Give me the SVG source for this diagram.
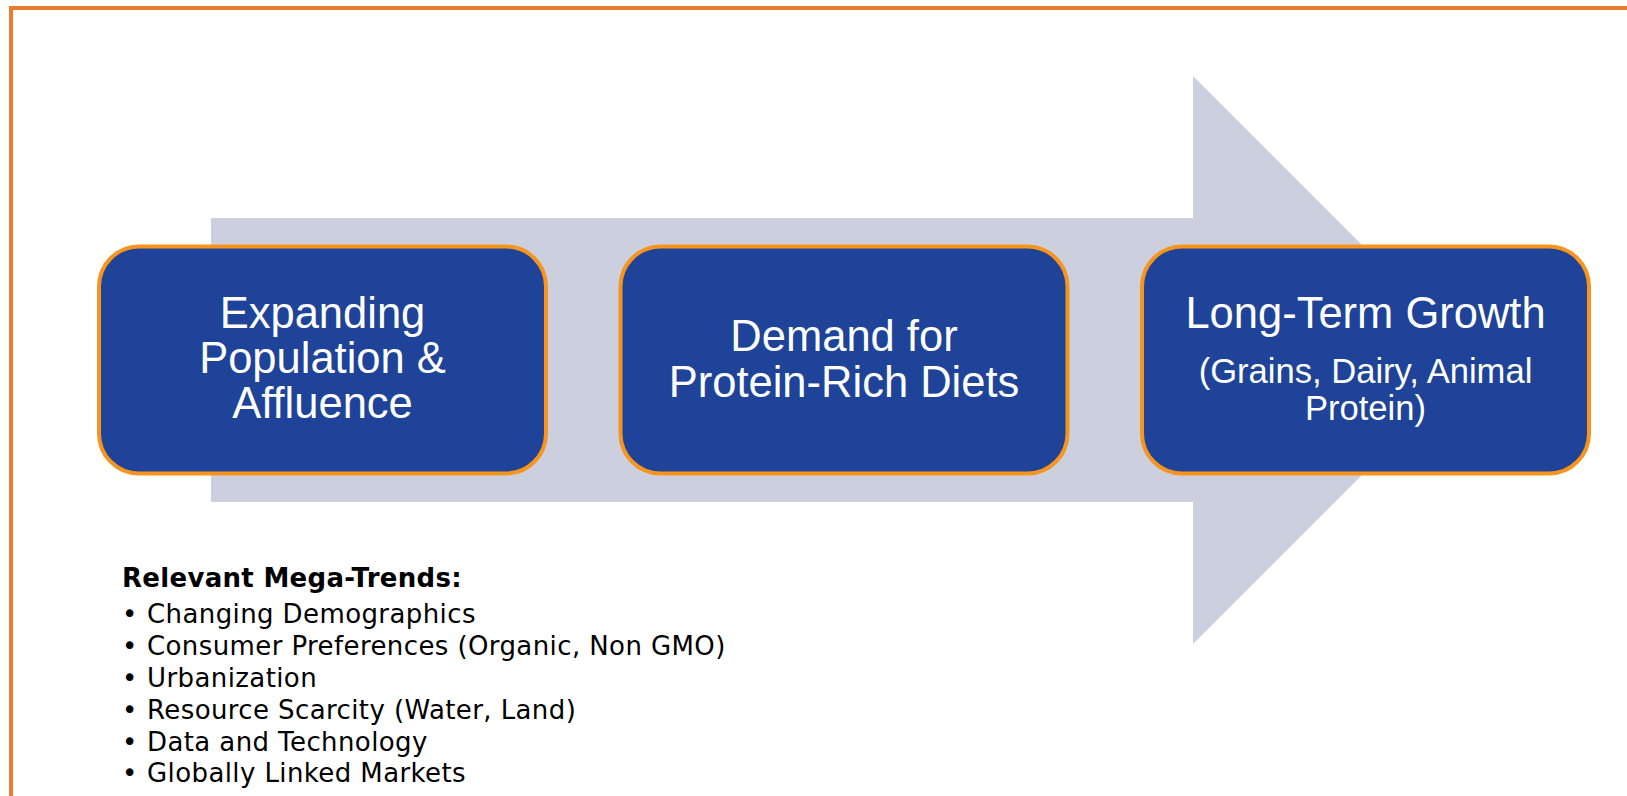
<svg xmlns="http://www.w3.org/2000/svg" width="1627" height="796" viewBox="0 0 1627 796">
  <style>
    .frame { fill: none; stroke: #EE7B2A; stroke-width: 4; }
    .band { fill: #CCD0DE; }
    .box { fill: #1E4398; stroke: #F7941D; stroke-width: 4; }
    .lbl { font-family: "Liberation Sans", Arial, sans-serif; fill: #FFFFFF; text-anchor: middle; }
    .big { font-size: 43.5px; }
    .small { font-size: 34.6px; }
    .list { font-family: "DejaVu Sans", Verdana, sans-serif; font-size: 26px; fill: #000000; letter-spacing: 0.4px; }
    .head { font-weight: bold; letter-spacing: 0.3px; }
  </style>

  <rect id="page" x="0" y="0" width="1627" height="796" fill="#FFFFFF"/>
  <!-- outer frame, continues past the right and bottom edges -->
  <rect class="frame" x="11" y="8" width="1640" height="820"/>

  <!-- background flow arrow -->
  <g id="connectors">
    <polygon class="band" points="211,218 1193,218 1193,76 1477,360 1193,644 1193,502 211,502"/>
  </g>

  <g id="node-population">
    <rect class="box" x="99" y="246.5" width="447" height="227" rx="40" ry="40"/>
    <text class="lbl big" x="322.5" y="328">Expanding</text>
    <text class="lbl big" x="322.5" y="373">Population &amp;</text>
    <text class="lbl big" x="322.5" y="418">Affluence</text>
  </g>

  <g id="node-demand">
    <rect class="box" x="620.5" y="246.5" width="447" height="227" rx="40" ry="40"/>
    <text class="lbl big" x="844" y="351">Demand for</text>
    <text class="lbl big" x="844" y="397">Protein-Rich Diets</text>
  </g>

  <g id="node-growth">
    <rect class="box" x="1142" y="246.5" width="447" height="227" rx="40" ry="40"/>
    <text class="lbl big" x="1365.5" y="328">Long-Term Growth</text>
    <text class="lbl small" x="1365.5" y="383">(Grains, Dairy, Animal</text>
    <text class="lbl small" x="1365.5" y="420">Protein)</text>
  </g>

  <g id="mega-trends">
    <text class="list head" x="122" y="587">Relevant Mega-Trends:</text>
    <text class="list" x="122" y="623">•</text><text class="list" x="147" y="623">Changing Demographics</text>
    <text class="list" x="122" y="655">•</text><text class="list" x="147" y="655">Consumer Preferences (Organic, Non GMO)</text>
    <text class="list" x="122" y="687">•</text><text class="list" x="147" y="687">Urbanization</text>
    <text class="list" x="122" y="719">•</text><text class="list" x="147" y="719">Resource Scarcity (Water, Land)</text>
    <text class="list" x="122" y="751">•</text><text class="list" x="147" y="751">Data and Technology</text>
    <text class="list" x="122" y="782">•</text><text class="list" x="147" y="782">Globally Linked Markets</text>
  </g>
</svg>
